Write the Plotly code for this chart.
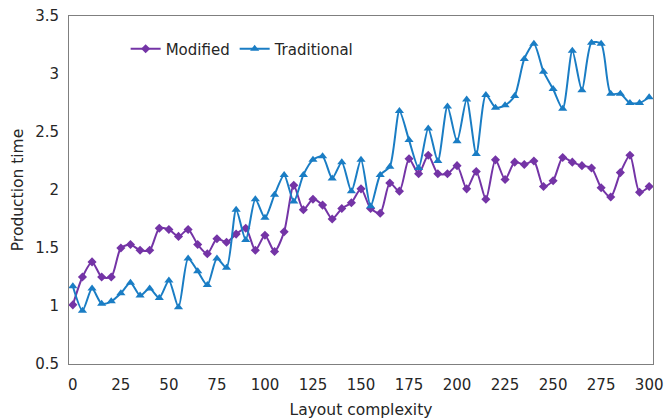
import plotly.graph_objects as go

complexity = [0, 5, 10, 15, 20, 25, 30, 35, 40, 45, 50, 55, 60, 65, 70, 75, 80, 85, 90, 95,
              100, 105, 110, 115, 120, 125, 130, 135, 140, 145, 150, 155, 160, 165, 170, 175,
              180, 185, 190, 195, 200, 205, 210, 215, 220, 225, 230, 235, 240, 245, 250, 255,
              260, 265, 270, 275, 280, 285, 290, 295, 300]

modified = [1.01, 1.25, 1.38, 1.25, 1.25, 1.50, 1.53, 1.48, 1.48, 1.67, 1.66, 1.60, 1.66,
            1.53, 1.45, 1.58, 1.55, 1.62, 1.67, 1.48, 1.61, 1.47, 1.64, 2.04, 1.83, 1.92,
            1.87, 1.75, 1.84, 1.89, 2.01, 1.84, 1.80, 2.06, 1.99, 2.27, 2.14, 2.30, 2.14,
            2.14, 2.21, 2.01, 2.16, 1.92, 2.26, 2.09, 2.24, 2.22, 2.25, 2.03, 2.08, 2.28,
            2.24, 2.21, 2.19, 2.02, 1.94, 2.15, 2.30, 1.98, 2.03]

traditional = [1.17, 0.96, 1.15, 1.02, 1.04, 1.11, 1.20, 1.09, 1.15, 1.07, 1.22, 0.99, 1.41,
               1.30, 1.18, 1.41, 1.33, 1.83, 1.57, 1.92, 1.76, 1.96, 2.13, 1.90, 2.13, 2.26,
               2.29, 2.10, 2.24, 1.99, 2.26, 1.86, 2.13, 2.20, 2.68, 2.43, 2.19, 2.53, 2.25,
               2.72, 2.42, 2.78, 2.31, 2.82, 2.71, 2.73, 2.81, 3.13, 3.26, 3.02, 2.87, 2.70,
               3.20, 2.86, 3.27, 3.26, 2.83, 2.83, 2.75, 2.75, 2.80]

x_ticks = [0, 25, 50, 75, 100, 125, 150, 175, 200, 225, 250, 275, 300]
y_ticks = [0.5, 1, 1.5, 2, 2.5, 3, 3.5]

PURPLE = "#7434A6"
BLUE = "#1A7DC4"
FONT = "DejaVu Sans"
TEXT = "#262626"

fig = go.Figure()
fig.add_trace(go.Scatter(
    x=complexity, y=modified, name="Modified", mode="lines+markers",
    line=dict(color=PURPLE, width=2, shape="spline", smoothing=0.7),
    marker=dict(symbol="diamond", size=7, color=PURPLE),
))
fig.add_trace(go.Scatter(
    x=complexity, y=traditional, name="Traditional", mode="lines+markers",
    line=dict(color=BLUE, width=2, shape="spline", smoothing=0.7),
    marker=dict(symbol="triangle-up", size=8, color=BLUE),
))

fig.update_layout(
    width=665, height=419,
    margin=dict(l=69, r=12, t=16, b=55),
    paper_bgcolor="white", plot_bgcolor="white",
    font=dict(family=FONT, size=15, color=TEXT),
    showlegend=True,
    legend=dict(orientation="h", x=0.097, y=0.905, xanchor="left", yanchor="middle",
                bgcolor="rgba(0,0,0,0)", font=dict(family=FONT, size=15, color=TEXT),
                itemwidth=30, tracegroupgap=0),
)
fig.update_xaxes(
    range=[-2, 302], tickvals=x_ticks, ticktext=[str(v) for v in x_ticks],
    showgrid=False, zeroline=False, showline=True, mirror=True,
    linecolor="#7f7f7f", linewidth=1, ticks="", automargin=False,
    ticklabelstandoff=7,
    title=dict(text="Layout complexity", standoff=12, font=dict(size=15.5)),
    tickfont=dict(size=15),
)
fig.update_yaxes(
    range=[0.5, 3.5], tickvals=y_ticks, ticktext=[str(v) for v in y_ticks],
    showgrid=False, zeroline=False, showline=True, mirror=True,
    linecolor="#7f7f7f", linewidth=1, ticks="", automargin=False,
    ticklabelstandoff=6,
    title=dict(text="Production time", standoff=7, font=dict(size=15.5)),
    tickfont=dict(size=15),
)

fig.write_html("out.html", config={"displayModeBar": False},
               post_script="document.body.style.margin='0';")
